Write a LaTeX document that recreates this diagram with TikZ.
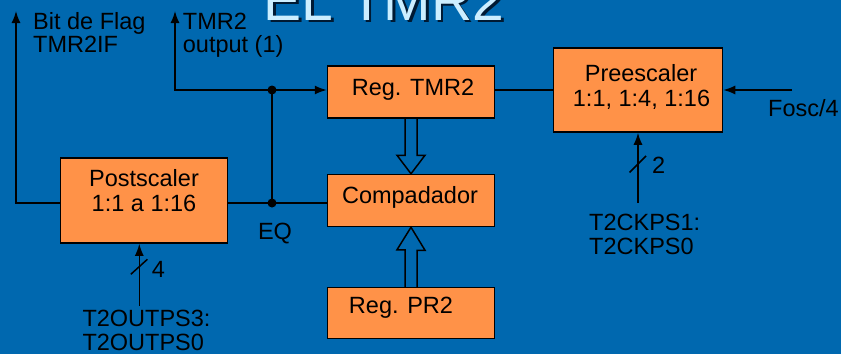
\documentclass[tikz,border=0pt]{standalone}
\usepackage{fontspec}
\setmainfont{Liberation Sans}
\usetikzlibrary{arrows.meta,calc}
\definecolor{bg}{HTML}{0068AF}
\definecolor{boxc}{HTML}{FF9248}
\definecolor{ttl}{HTML}{CCEEFF}
\definecolor{shd}{HTML}{001A33}
\begin{document}
\begin{tikzpicture}[x=1pt,y=-1pt,
  box/.style={draw=black,line width=1.5pt,fill=boxc,inner sep=0pt},
  wire/.style={line width=1.5pt},
  arr/.style={wire,-{Latex[length=12pt,width=9pt]}},
  hol/.style={line width=1.5pt,line join=miter},
  lbl/.style={inner sep=0pt,font=\fontsize{23.5}{24}\selectfont},
  ttlfont/.style={inner sep=0pt,anchor=base,font=\fontsize{57}{57}\selectfont},
  dot/.style={circle,fill=black,inner sep=0pt,minimum size=9pt}]
\fill[bg] (0,0) rectangle (841,354);
\useasboundingbox (0,0) rectangle (841,354);
% title (cut at the top)
\node[ttlfont,text=shd] (titleshadow) at (386.5,22.5) {EL TMR2};
\node[ttlfont,text=ttl] (title) at (384,20) {EL TMR2};
% boxes
\node[box,minimum width=167pt,minimum height=52pt] (tmr) at (411,92) {};
\node[box,minimum width=167pt,minimum height=52pt] (comp) at (411,200.5) {};
\node[box,minimum width=167pt,minimum height=51pt] (pr2) at (411,313) {};
\node[box,minimum width=167pt,minimum height=85pt] (post) at (144,200.5) {};
\node[box,minimum width=169pt,minimum height=84pt] (pre) at (638,90) {};
% box texts
\node[lbl,anchor=base] (tmrt) at (413,95) {Reg. TMR2};
\node[lbl,anchor=base] (compt) at (410,203.3) {Compadador};
\node[lbl,anchor=base] (pr2t) at (401,313.3) {Reg. PR2};
\node[lbl,anchor=base] (post1) at (144,186.7) {Postscaler};
\node[lbl,anchor=base] (post2) at (144,211.7) {1:1 a 1:16};
\node[lbl,anchor=base] (pre1) at (641,81.7) {Preescaler};
\node[lbl,anchor=base] (pre2) at (641.5,106.7) {1:1, 1:4, 1:16};
% outer labels
\node[lbl,anchor=base west] (flag1) at (33,29) {Bit de Flag};
\node[lbl,anchor=base west] (flag2) at (33,52.7) {TMR2IF};
\node[lbl,anchor=base west] (out1) at (182.7,29.3) {TMR2};
\node[lbl,anchor=base west] (out2) at (182.7,52.7) {output (1)};
\node[lbl,anchor=base] (eqt) at (275,239) {EQ};
\node[lbl,anchor=base west] (fosct) at (768,116.5) {Fosc/4};
\node[lbl,anchor=base west] (two) at (652,173.3) {2};
\node[lbl,anchor=base west] (ck1) at (589,230) {T2CKPS1:};
\node[lbl,anchor=base west] (ck2) at (589,254) {T2CKPS0};
\node[lbl,anchor=base west] (four) at (151.7,277.3) {4};
\node[lbl,anchor=base west] (op1) at (82.3,326.7) {T2OUTPS3:};
\node[lbl,anchor=base west] (op2) at (82.3,350.7) {T2OUTPS0};
% coordinates
\coordinate (flag) at (16,11);
\coordinate (outtip) at (175,11);
\coordinate (j) at (272,90);
\coordinate (eq) at (272,203);
\coordinate (fosc) at (792,90);
\coordinate (cksrc) at (638,203);
\coordinate (opsrc) at (139.3,306);
% wires
\draw[arr] (post.west|-eq) -| (flag);
\draw[wire] (post.east|-eq) -- (comp.west|-eq);
\draw[wire] (eq) -- (j);
\draw[arr] (j) -| (outtip);
\draw[arr] (j) -- (tmr.west|-j);
\draw[wire] (tmr.east|-j) -- (pre.west|-j);
\draw[arr] (fosc) -- (pre.east|-fosc);
\draw[arr] (cksrc) -- (cksrc|-pre.south);
\draw[arr] (opsrc) -- (opsrc|-post.south);
% bus slashes
\draw[wire] ($(cksrc)+(-8.5,-30.5)$) -- ++(16.5,-16.5);
\draw[wire] ($(opsrc)+(-8.5,-31.7)$) -- ++(16.6,-15);
% junction dots
\node[dot] (jd) at (j) {};
\node[dot] (eqd) at (eq) {};
% hollow bus arrows
\draw[hol] ($(tmr.south)+(-6,0)$) -- ++(0,36.5) -- ++(-8,0) -- (comp.north) -- ++(14,-18.5) -- ++(-8,0) -- ($(tmr.south)+(6,0)$);
\draw[hol] ($(pr2.north)+(-6,0)$) -- ++(0,-37) -- ++(-8,0) -- (comp.south) -- ++(14,23) -- ++(-8,0) -- ($(pr2.north)+(6,0)$);
\end{tikzpicture}
\end{document}
